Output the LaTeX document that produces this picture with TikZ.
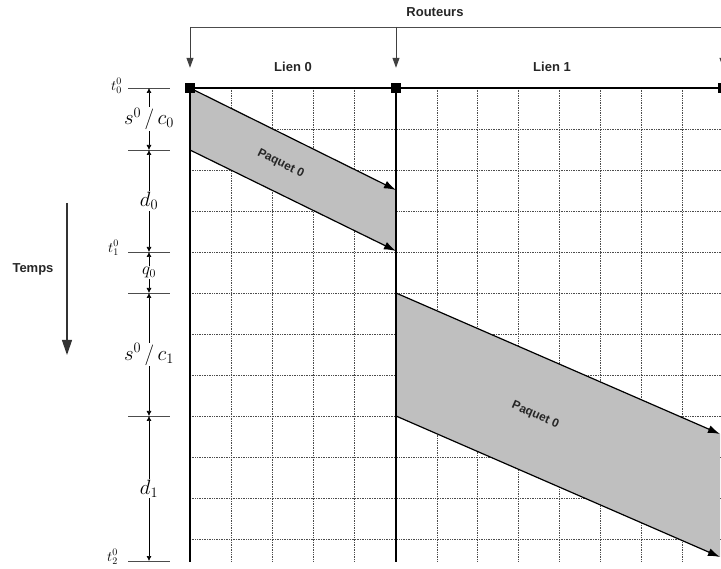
\documentclass[tikz,border=0pt]{standalone}
\usepackage{fontspec}
\setsansfont{Liberation Sans}
\usetikzlibrary{arrows.meta}

\begin{document}
\begin{tikzpicture}[
  x=1pt, y=-1pt,
  lbl/.style={font=\sffamily\bfseries\fontsize{13}{15}\selectfont, text=black!85},
  router/.style={fill=black, minimum size=10pt, inner sep=0pt},
  wire/.style={line width=2.6pt},
  gridline/.style={densely dotted, line width=0.7pt, black!70},
  band/.style={fill=black!25},
  edgearrow/.style={-{Latex[length=12pt,width=8pt]}, line width=1.2pt},
  tickline/.style={black!70, line width=0.8pt},
  dim/.style={{Latex[length=5pt,width=5pt]}-{Latex[length=5pt,width=5pt]}, line width=0.6pt},
  dimlbl/.style={fill=white, inner sep=1pt, font=\fontsize{20.74}{24}\selectfont},
  tlbl/.style={anchor=east, inner sep=1pt, font=\fontsize{14.4}{16}\selectfont},
  feed/.style={-{Triangle[length=10pt,width=7pt]}, line width=0.9pt, black!75}
]
\useasboundingbox (0,0) rectangle (721,569);

% grid
\foreach \k in {1,...,4} \draw[gridline] (190+41.2*\k,88) -- (190+41.2*\k,562);
\foreach \k in {1,...,7} \draw[gridline] (396+40.9*\k,88) -- (396+40.9*\k,562);
\foreach \k in {1,...,11} \draw[gridline] (190,88+41*\k) -- (723,88+41*\k);

% packets
\fill[band] (190,88) -- (396,190) -- (396,251) -- (190,150) -- cycle;
\draw[edgearrow] (190,88) -- (396,190);
\draw[edgearrow] (190,150) -- (396,251);
\path (190,119) -- (396,220.5) node[lbl, font=\sffamily\bfseries\fontsize{12}{14}\selectfont, pos=0.44, sloped] (pk0) {Paquet 0};
\fill[band] (396,293) -- (720,434) -- (720,557) -- (396,416) -- cycle;
\draw[edgearrow] (396,293) -- (720,434);
\draw[edgearrow] (396,416) -- (720,557);
\path (396,354.5) -- (720,495.5) node[lbl, font=\sffamily\bfseries\fontsize{12}{14}\selectfont, pos=0.43, sloped] (pk1) {Paquet 0};

% routers and links
\node[router] (r0) at (190,88) {};
\node[router] (r1) at (396,88) {};
\node[router] (r2) at (723,88) {};
\draw[wire] (r0.center) -- (r2.center);
\draw[wire] (r0.center) -- (190,562);
\draw[wire] (r1.center) -- (396,562);
\node[lbl] (lien0) at (293,67) {Lien 0};
\node[lbl] (lien1) at (552,67) {Lien 1};

\node[lbl] (routeurs) at (435,12) {Routeurs};
\coordinate (bus0) at (190,27);
\coordinate (bus1) at (396,27);
\coordinate (bus2) at (723,27);
\draw[black!70, line width=0.9pt] (bus0) -- (bus2);
\draw[feed] (bus0) -- ([yshift=15pt]r0.north);
\draw[feed] (bus1) -- ([yshift=15pt]r1.north);
\draw[feed] (bus2) -- ([yshift=15pt]r2.north);

% time axis
\node[lbl] (temps) at (33,269) {Temps};
\coordinate (tstart) at (67,203);
\coordinate (tend) at (67,355);
\draw[-{Triangle[length=15pt,width=10pt]}, line width=1.2pt, black!80] (tstart) -- (tend);

% ticks and intervals
\foreach \y/\n in {88/a, 150/b, 252/c, 293/d, 416/e, 561/f} {
  \draw[tickline] (128,\y) -- (170,\y);
  \coordinate (m\n) at (149,\y);
}
\draw[dim] (ma) -- node[dimlbl] {$s^0\,/\,c_0$} (mb);
\draw[dim] (mb) -- node[dimlbl] {$d_0$} (mc);
\draw[dim] (mc) -- node[dimlbl, font=\fontsize{17.28}{19}\selectfont] {$q_0$} (md);
\draw[dim] (md) -- node[dimlbl] {$s^0\,/\,c_1$} (me);
\draw[dim] (me) -- node[dimlbl] {$d_1$} (mf);
\node[tlbl] (t0) at (123,86) {$t_0^0$};
\node[tlbl] (t1) at (120,248) {$t_1^0$};
\node[tlbl] (t2) at (119,557) {$t_2^0$};
\end{tikzpicture}
\end{document}
